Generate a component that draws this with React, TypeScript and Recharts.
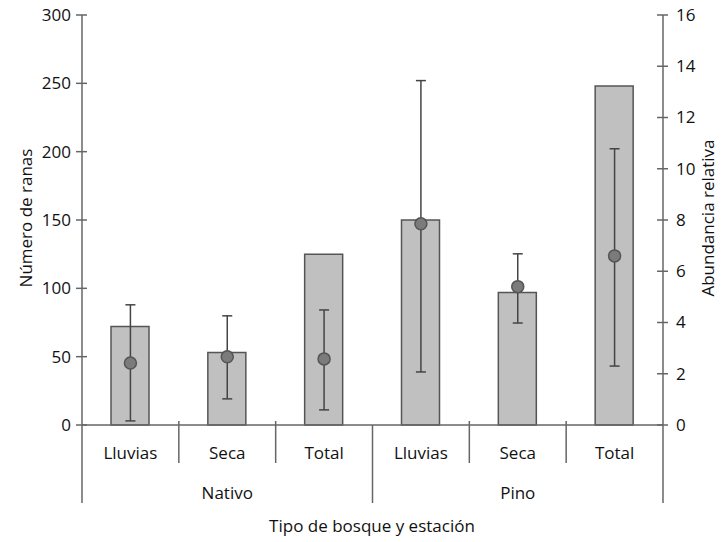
import {
  ComposedChart,
  Bar,
  Scatter,
  ErrorBar,
  XAxis,
  YAxis,
} from 'recharts';

const GROUPS = ['Nativo', 'Nativo', 'Nativo', 'Pino', 'Pino', 'Pino'];
const SEASONS = ['Lluvias', 'Seca', 'Total', 'Lluvias', 'Seca', 'Total'];
// left axis: number of frogs (bars)
const RANAS = [72, 53, 125, 150, 97, 248];
// right axis: relative abundance (points + error bars)
const ABUNDANCIA = [2.42, 2.66, 2.58, 7.85, 5.4, 6.6];
const ABUND_LOW = [0.16, 1.02, 0.59, 2.07, 3.98, 2.3];
const ABUND_HIGH = [4.69, 4.26, 4.49, 13.44, 6.68, 10.78];

const LEFT_TICKS = [0, 50, 100, 150, 200, 250, 300];
const RIGHT_TICKS = [0, 2, 4, 6, 8, 10, 12, 14, 16];

const data = SEASONS.map((s, i) => ({
  id: `${GROUPS[i]}-${s}`,
  ranas: RANAS[i],
  abund: ABUNDANCIA[i],
  err: [ABUNDANCIA[i] - ABUND_LOW[i], ABUND_HIGH[i] - ABUNDANCIA[i]],
}));

const FONT = '"Open Sans", sans-serif';
const FS = 17;
const AXIS = '#666';
const TEXT = '#111';

function LeftTick({ x, y, payload }: any) {
  return (
    <g>
      <line x1={x - 6} x2={x + 5} y1={y} y2={y} stroke={AXIS} strokeWidth={1.5} />
      <text x={x - 11} y={y} dy="0.35em" textAnchor="end" fontFamily={FONT} fontSize={FS} fill={TEXT}>
        {payload.value}
      </text>
    </g>
  );
}

function RightTick({ x, y, payload }: any) {
  return (
    <g>
      <line x1={x - 6} x2={x + 5} y1={y} y2={y} stroke={AXIS} strokeWidth={1.5} />
      <text x={x + 13} y={y} dy="0.35em" textAnchor="start" fontFamily={FONT} fontSize={FS} fill={TEXT}>
        {payload.value}
      </text>
    </g>
  );
}

function CategoryTick({ x, y, index, payload, width }: any) {
  const band = payload?.offset ? payload.offset * 2 : width ? width / SEASONS.length : 96.8;
  const right = x + band / 2;
  const left = x - band / 2;
  const endOfGroup = GROUPS[index + 1] !== GROUPS[index];
  const midOfGroup = GROUPS[index - 1] === GROUPS[index] && GROUPS[index + 1] === GROUPS[index];
  return (
    <g>
      {index === 0 && <line x1={left} x2={left} y1={y} y2={y + 78} stroke={AXIS} strokeWidth={1.5} />}
      {endOfGroup ? (
        <line x1={right} x2={right} y1={y} y2={y + 78} stroke={AXIS} strokeWidth={1.5} />
      ) : (
        <line x1={right} x2={right} y1={y - 4} y2={y + 38} stroke={AXIS} strokeWidth={1.5} />
      )}
      <text x={x} y={y + 34} textAnchor="middle" fontFamily={FONT} fontSize={FS} fill={TEXT}>
        {SEASONS[index]}
      </text>
      {midOfGroup && (
        <text x={x} y={y + 74} textAnchor="middle" fontFamily={FONT} fontSize={FS} fill={TEXT}>
          {GROUPS[index]}
        </text>
      )}
    </g>
  );
}

function Dot({ cx, cy }: any) {
  return <circle cx={cx} cy={cy} r={6} fill="#7b7b7b" stroke="#555" strokeWidth={1.5} />;
}

export default function App() {
  return (
    <div style={{ position: 'absolute', left: 0, top: 0, width: 725, height: 542 }}>
      <ComposedChart
        width={725}
        height={542}
        data={data}
        margin={{ top: 15, right: 0, bottom: 0, left: 0 }}
        style={{ fontFamily: FONT }}
      >
        <XAxis
          dataKey="id"
          height={117}
          tickSize={0}
          tickMargin={0}
          tickLine={false}
          interval={0}
          axisLine={{ stroke: AXIS, strokeWidth: 1.5 }}
          tick={<CategoryTick />}
          label={{
            content: () => (
              <text x={372} y={532} textAnchor="middle" fontFamily={FONT} fontSize={FS} fill={TEXT}>
                Tipo de bosque y estación
              </text>
            ),
          }}
        />
        <YAxis
          yAxisId="left"
          width={82}
          domain={[0, 300]}
          ticks={LEFT_TICKS}
          tickSize={0}
          tickMargin={0}
          tickLine={false}
          interval={0}
          axisLine={{ stroke: AXIS, strokeWidth: 1.5 }}
          tick={<LeftTick />}
          label={{
            content: () => (
              <text
                x={32}
                y={218}
                transform="rotate(-90, 32, 218)"
                textAnchor="middle"
                fontFamily={FONT}
                fontSize={FS}
                fill={TEXT}
              >
                Número de ranas
              </text>
            ),
          }}
        />
        <YAxis
          yAxisId="right"
          orientation="right"
          width={62}
          domain={[0, 16]}
          ticks={RIGHT_TICKS}
          tickSize={0}
          tickMargin={0}
          tickLine={false}
          interval={0}
          axisLine={{ stroke: AXIS, strokeWidth: 1.5 }}
          tick={<RightTick />}
          label={{
            content: () => (
              <text
                x={714}
                y={218}
                transform="rotate(-90, 714, 218)"
                textAnchor="middle"
                fontFamily={FONT}
                fontSize={FS}
                fill={TEXT}
              >
                Abundancia relativa
              </text>
            ),
          }}
        />
        <Bar
          yAxisId="left"
          dataKey="ranas"
          barSize={38}
          fill="#c0c0c0"
          stroke="#555"
          strokeWidth={1.5}
          isAnimationActive={false}
        />
        <Scatter yAxisId="right" dataKey="abund" shape={<Dot />} isAnimationActive={false}>
          <ErrorBar dataKey="err" direction="y" width={5} stroke="#444" strokeWidth={1.5} />
        </Scatter>
      </ComposedChart>
    </div>
  );
}
